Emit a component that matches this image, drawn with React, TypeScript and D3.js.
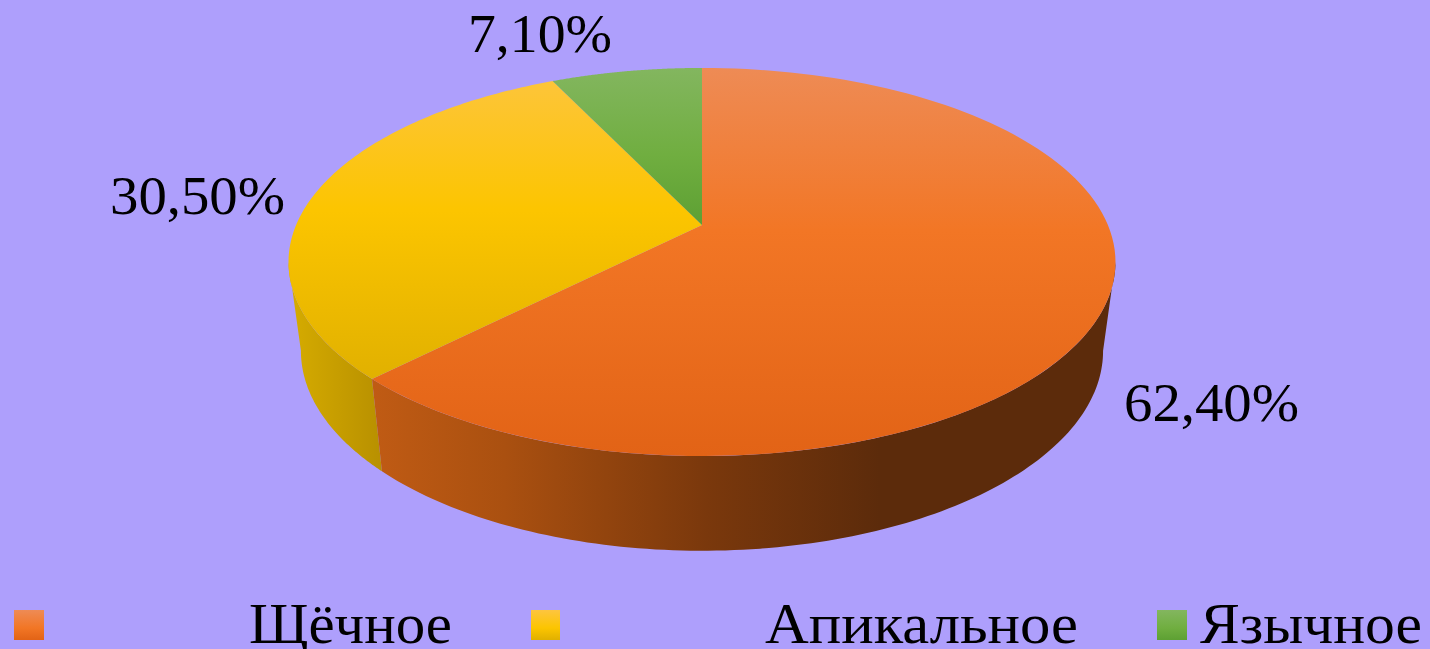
import React from "react";
import * as d3 from "d3";

const categories = ["Щёчное", "Апикальное", "Язычное"];
const values = [62.4, 30.5, 7.1];
const valueLabels = ["62,40%", "30,50%", "7,10%"];

const W = 1430, H = 649;
const FONT = "'Liberation Serif', serif";
const topColors = [
  ["#ee8b55", "#f27625", "#e26316"],
  ["#fdc53f", "#fcc500", "#e0b000"],
  ["#83b65f", "#70ae40", "#5da033"],
];

// perspective disc: far edge shrinks, near edge grows
const K = 0.1907, CX = 702;
const project = (a: number, lid: boolean): [number, number] => {
  const d = Math.cos(a), s = Math.sin(a), den = 1 + K * d;
  const x = CX + (405.9 * s) / den;
  const y = 225 - (187 * d) / den;
  return lid ? [x, y] : [CX + (x - CX) * 0.97, y * 1.03 + 81];
};
const pieData = d3.pie<number>().sort(null)(values);
const sample = (a0: number, a1: number, lid: boolean) =>
  d3.range(0, 121).map((i) => project(a0 + ((a1 - a0) * i) / 120, lid));
const line = d3.line();
const apex = (): [number, number] => [CX, 225];
const tangent = Math.acos(-K);

const labelPos: [number, number, number][] = [
  [1124, 421, 175],
  [110, 214, 175],
  [468, 52, 144],
];
const legendPos = [
  { sx: 14, sw: 30, tx: 249, tw: 203 },
  { sx: 531, sw: 29, tx: 765, tw: 313 },
  { sx: 1157, sw: 30, tx: 1200, tw: 222 },
];

export default function App() {
  const orangeSide = [...sample(tangent, pieData[0].endAngle, true), ...sample(pieData[0].endAngle, tangent, false)];
  const yellowSide = [...sample(pieData[1].startAngle, 2 * Math.PI - tangent, true), ...sample(2 * Math.PI - tangent, pieData[1].startAngle, false)];
  return (
    <svg width={W} height={H} viewBox={`0 0 ${W} ${H}`} style={{ position: "absolute", left: 0, top: 0, display: "block" }}>
      <defs>
        {topColors.map((c, i) => (
          <React.Fragment key={i}>
            <linearGradient id={`top${i}`} gradientUnits="userSpaceOnUse" x1="0" x2="0" y1="68" y2={i === 0 ? 456 : i === 1 ? 385 : 226}>
              <stop offset="0" stopColor={c[0]} />
              <stop offset={i === 0 ? 0.42 : i === 1 ? 0.45 : 0.55} stopColor={c[1]} />
              <stop offset="1" stopColor={c[2]} />
            </linearGradient>
            <linearGradient id={`leg${i}`} x1="0" x2="0" y1="0" y2="1">
              <stop offset="0" stopColor={c[0]} />
              <stop offset="0.6" stopColor={c[1]} />
              <stop offset="1" stopColor={c[2]} />
            </linearGradient>
          </React.Fragment>
        ))}
        <linearGradient id="sideO" gradientUnits="userSpaceOnUse" x1="373" x2="880" y1="0" y2="0">
          <stop offset="0" stopColor="#c05b14" />
          <stop offset="0.26" stopColor="#aa5010" />
          <stop offset="0.66" stopColor="#7a380c" />
          <stop offset="1" stopColor="#5c2b0b" />
        </linearGradient>
        <linearGradient id="sideY" gradientUnits="userSpaceOnUse" x1="295" x2="382" y1="0" y2="0">
          <stop offset="0" stopColor="#d4aa00" />
          <stop offset="1" stopColor="#b89000" />
        </linearGradient>
      </defs>
      <rect x={0} y={0} width={W} height={H} fill="#ae9ffc" />
      <path d={line(yellowSide) + "Z"} fill="url(#sideY)" />
      <path d={line(orangeSide) + "Z"} fill="url(#sideO)" />
      {pieData.map((p, i) => (
        <path key={i} d={line([apex(), ...sample(p.startAngle, p.endAngle, true)]) + "Z"} fill={`url(#top${i})`} />
      ))}
      {valueLabels.map((t, i) => (
        <text key={t} x={labelPos[i][0]} y={labelPos[i][1]} textLength={labelPos[i][2]} lengthAdjust="spacingAndGlyphs" fontFamily={FONT} fontSize={55} fill="#000">{t}</text>
      ))}
      {categories.map((t, i) => (
        <g key={t}>
          <rect x={legendPos[i].sx} y={610} width={legendPos[i].sw} height={30} fill={`url(#leg${i})`} />
          <text x={legendPos[i].tx} y={643} textLength={legendPos[i].tw} lengthAdjust="spacingAndGlyphs" fontFamily={FONT} fontSize={56} fill="#000">{t}</text>
        </g>
      ))}
    </svg>
  );
}
